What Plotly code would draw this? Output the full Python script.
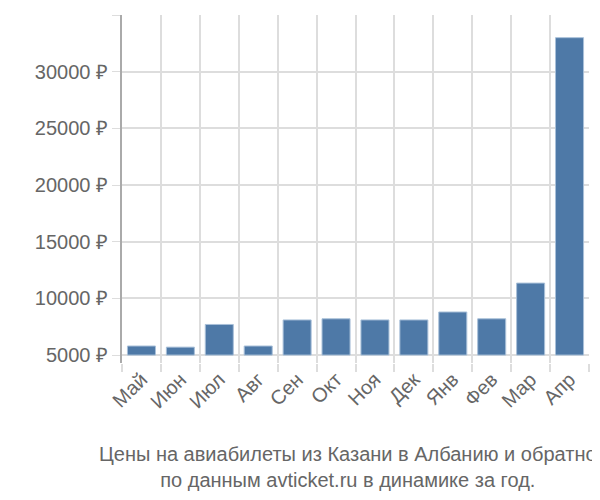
import plotly.graph_objs as go

months = ["Май", "Июн", "Июл", "Авг", "Сен", "Окт", "Ноя", "Дек", "Янв", "Фев", "Мар", "Апр"]
prices = [5800, 5700, 7700, 5800, 8100, 8200, 8100, 8100, 8800, 8200, 11350, 33000]
y_ticks = [5000, 10000, 15000, 20000, 25000, 30000, 35000]
y_labels = [f"{v} ₽" for v in y_ticks]
base_price = 5000

fig = go.Figure()
fig.add_trace(go.Bar(x=months, y=[p - base_price for p in prices], base=base_price,
                     marker=dict(color="#4e79a7", line=dict(color="#a9c0d9", width=1)),
                     width=0.72))

# page has an 8px body margin, so shrink the figure to fit the window
fig.update_layout(
    width=584, height=484,
    margin=dict(l=114, r=3, t=7, b=129),
    plot_bgcolor="white", paper_bgcolor="white",
    font=dict(family="Liberation Sans, Arial", size=20, color="#666"),
    showlegend=False,
    annotations=[dict(text="Цены на авиабилеты из Казани в Албанию и обратно<br>по данным avticket.ru в динамике за год.",
                      xref="paper", yref="paper", x=0.5, y=-0.225, xanchor="center", yanchor="top",
                      xshift=-8, showarrow=False, font=dict(size=20, color="#666"))],
)
fig.update_xaxes(range=[-0.5, 11.5], tickangle=-45, tickson="boundaries", showgrid=True, gridcolor="#ddd",
                 gridwidth=2, ticks="outside", ticklen=8, tickcolor="#ddd", tickwidth=2, showline=False,
                 tickfont=dict(size=20))
fig.update_yaxes(range=[4300, 35000], tickvals=y_ticks, ticktext=y_labels, gridcolor="#ddd", gridwidth=2,
                 showline=True, linecolor="#aaa", linewidth=2, ticks="outside", ticklen=8, tickcolor="#ddd",
                 zeroline=False, tickfont=dict(size=20))

fig.write_html("out.html")
